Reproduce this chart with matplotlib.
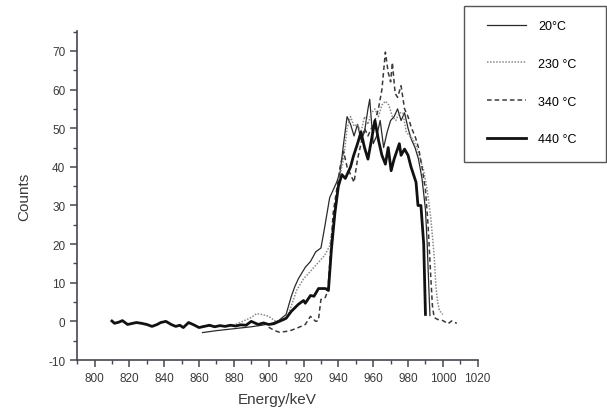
import matplotlib
matplotlib.use('Agg')
import matplotlib.pyplot as plt
from matplotlib.lines import Line2D
from matplotlib.patches import Rectangle
from matplotlib.ticker import MultipleLocator

plt.rcParams['font.family'] = ['Liberation Sans', 'DejaVu Sans']
plt.rcParams['axes.unicode_minus'] = False

# 20 C (thin solid)
e_20 = [862, 870, 880, 890, 896, 902, 906, 910, 913, 915, 917, 919, 921, 924, 927, 930, 932, 935, 937, 939,
        941, 943, 945, 947, 949, 951, 953, 955, 957, 958, 960, 962, 964, 966, 968, 970, 972, 974, 976, 978,
        980, 982, 984, 986, 988, 990, 991, 992, 992.6]
c_20 = [-2.9, -2.4, -1.9, -1.4, -1.0, -0.5, 0.3, 1.8, 6.5, 9.0, 11.0, 12.5, 14.0, 15.5, 18.0, 19.0, 24.0, 32.0, 34.0, 36.0,
        38.6, 46.0, 53.0, 51.0, 48.0, 51.0, 47.0, 49.0, 55.0, 57.5, 46.0, 48.0, 52.0, 45.0, 49.0, 52.0, 53.0, 55.0, 52.0, 54.0,
        50.0, 47.0, 45.0, 42.0, 37.0, 29.0, 20.0, 8.0, 1.5]

# 230 C (dotted grey)
e_230 = [862, 870, 880, 886, 890, 893, 896, 900, 904, 908, 911, 913, 916, 920, 924, 928, 932, 935, 937, 939,
         941, 943, 945, 947, 949, 951, 953, 955, 957, 959, 961, 963, 965, 967, 969, 971, 973, 975, 977, 979,
         981, 983, 985, 987, 989, 991, 993, 995, 996, 997, 998, 1000]
c_230 = [-1.2, -1.3, -1.0, 0.2, 1.0, 2.0, 1.8, 1.3, 0.0, 0.0, 1.5, 4.0, 8.0, 11.0, 13.0, 15.0, 17.0, 19.5, 25.0, 32.0,
         38.0, 42.0, 50.0, 53.0, 50.5, 51.0, 49.0, 53.0, 51.0, 54.0, 55.0, 53.0, 56.0, 57.0, 56.0, 53.0, 52.0, 54.0, 54.0, 49.0,
         48.0, 47.0, 45.0, 42.0, 39.0, 34.0, 27.0, 17.0, 9.0, 5.0, 2.8, 1.8]

# 340 C (dashed)
e_340 = [900, 903, 906, 910, 913, 917, 921, 924, 927, 928.5, 930, 932.5, 934, 935.5, 937, 939, 941, 943, 945, 947,
         949, 951, 953, 955, 957, 959, 961, 963, 965, 967, 968.6, 970, 971, 972.6, 974, 976, 978, 980, 982, 984,
         986, 988, 990, 991.5, 993, 994, 995, 997, 1000, 1003, 1005, 1008]
c_340 = [-1.5, -2.3, -2.8, -2.6, -2.3, -1.6, -0.8, 1.3, 0.0, 0.2, 5.7, 6.2, 8.0, 18.0, 28.0, 34.0, 40.0, 44.0, 40.0, 38.0,
         36.0, 42.0, 46.0, 50.0, 48.0, 50.0, 52.0, 55.0, 60.0, 69.7, 64.5, 62.0, 67.0, 59.0, 58.0, 61.0, 55.0, 53.0, 50.0, 48.0,
         45.0, 40.0, 34.0, 25.0, 12.0, 4.0, 1.0, 0.5, 0.2, -0.6, 0.1, -0.5]

# 440 C (thick solid)
e_440 = [810, 811.5, 814, 816, 819, 822, 824, 827, 830, 833, 836, 838, 841, 844, 846.6, 849, 851, 854, 857, 860,
         863, 866, 869, 872, 875, 878, 881, 884, 887, 890, 894, 897, 900, 903, 906, 910, 913, 917, 920, 921,
         924, 926, 928.6, 932.6, 934.3, 936, 938, 940, 942, 944, 947, 948.6, 951, 953, 955, 957, 959, 961, 963, 965,
         967, 968.6, 970.3, 972, 975, 976, 978, 980, 981.7, 984.6, 985.7, 987.4, 989, 990]
c_440 = [0.1, -0.5, -0.2, 0.2, -0.8, -0.5, -0.3, -0.5, -0.8, -1.3, -0.8, -0.3, 0.0, -0.8, -1.3, -1.0, -1.6, -0.3, -0.9, -1.6,
         -1.3, -1.0, -1.4, -1.1, -1.3, -1.0, -1.2, -0.9, -1.0, 0.0, -0.8, -0.4, -0.8, -0.6, 0.0, 0.8, 2.6, 4.4, 5.4, 4.7,
         6.7, 6.5, 8.5, 8.5, 8.0, 18.6, 28.0, 35.0, 38.0, 37.0, 40.0, 42.7, 46.0, 49.0, 45.0, 42.0, 47.0, 52.0, 47.0, 43.0,
         40.7, 45.0, 39.0, 42.0, 46.0, 43.0, 44.6, 43.0, 40.0, 36.0, 30.0, 30.0, 20.0, 1.8]

labels = ['20°C', '230 °C', '340 °C', '440 °C']

fig = plt.figure(figsize=(6.07, 4.14), dpi=100)
ax = fig.add_axes([0.127, 0.128, 0.660, 0.795])

ax.plot(e_20, c_20, color='#2a2a2a', lw=0.9)
ax.plot(e_230, c_230, color='#8a8a8a', lw=1.1, ls=(0, (1, 1)))
ax.plot(e_340, c_340, color='#3a3a3a', lw=1.1, ls=(0, (3, 2)))
ax.plot(e_440, c_440, color='#111111', lw=2.0)

ax.set_xlim(790, 1020)
ax.set_ylim(-10, 75.2)
ax.xaxis.set_major_locator(MultipleLocator(20))
ax.xaxis.set_minor_locator(MultipleLocator(10))
ax.yaxis.set_major_locator(MultipleLocator(10))
ax.yaxis.set_minor_locator(MultipleLocator(5))
ax.set_xticks(range(800, 1021, 20))

spine_col = '#4a4450'
for s in ['top', 'right']:
    ax.spines[s].set_visible(False)
for s in ['left', 'bottom']:
    ax.spines[s].set_color(spine_col)
    ax.spines[s].set_linewidth(1.2)
ax.tick_params(which='major', direction='out', length=5, width=1.1, color=spine_col,
               labelsize=8.5, labelcolor='#3a3a3a')
ax.tick_params(which='minor', direction='out', length=3, width=1.0, color=spine_col)

ax.set_xlabel('Energy/keV', fontsize=11, color='#3a3a3a', labelpad=6)
ax.set_ylabel('Counts', fontsize=11, color='#3a3a3a', labelpad=12)

# legend box sits partly outside the axes, top right of the figure
fig.patches.append(Rectangle((464 / 607, 1 - 163 / 414), 142 / 607, 156 / 414,
                             transform=fig.transFigure, fill=False, ec='#555555', lw=1.0))
handles = [Line2D([], [], color='#2a2a2a', lw=0.9),
           Line2D([], [], color='#8a8a8a', lw=1.1, ls=(0, (1, 1))),
           Line2D([], [], color='#3a3a3a', lw=1.1, ls=(0, (3, 2))),
           Line2D([], [], color='#111111', lw=2.0)]
fig.legend(handles, labels, loc='upper left', bbox_to_anchor=(487 / 607, 1 - 21 / 414),
           frameon=False, fontsize=9, handlelength=3.1, handletextpad=1.0,
           labelspacing=2.06, borderpad=0, borderaxespad=0)

fig.savefig('out.png', dpi=100, facecolor='white')
